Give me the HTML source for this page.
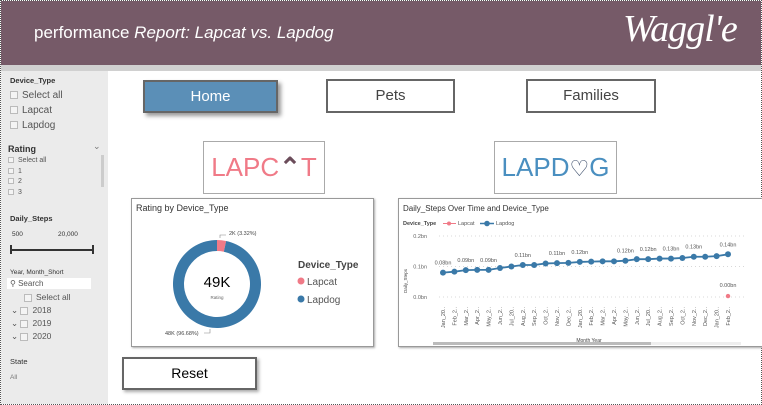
<!DOCTYPE html>
<html><head><meta charset="utf-8">
<style>
*{box-sizing:border-box;margin:0;padding:0}
body{width:762px;height:405px;overflow:hidden;background:#fff;font-family:"Liberation Sans",sans-serif;position:relative}
.abs{position:absolute}
.frame{left:0;top:0;width:762px;height:405px;border:1px dotted #555}
.header{left:1px;top:1px;width:760px;height:64px;background:#765a68}
.band{left:1px;top:65px;width:760px;height:6px;background:#d0d0d0}
.side{left:1px;top:71px;width:107px;height:333px;background:#ebebeb;font-size:8px;color:#333}
.btn{border:2px solid #666;background:#fff;font-size:15px;color:#444;text-align:center;line-height:29px}
.cb{display:inline-block;width:8px;height:8px;border:1px solid #bbb;background:#f4f4f4;vertical-align:middle;margin-right:4px}
.panel{border:1px solid #999;background:#fff;box-shadow:1px 1px 2px #aaa}
</style></head><body>
<div class="abs frame"></div>
<div class="abs header">
 <div class="abs" style="left:33px;top:22px;color:#fff;font-size:17px">performance <i>Report: Lapcat vs. Lapdog</i></div>
 <div class="abs" style="left:622px;top:6px;color:#fff;font-size:38px;font-style:italic;font-family:'Liberation Serif',serif;letter-spacing:-1px">Waggl'e</div>
</div>
<div class="abs band"></div>
<div class="abs side">
 <div class="abs" style="left:9px;top:5px;font-weight:bold;font-size:7.5px">Device_Type</div>
 <div class="abs" style="left:9px;top:17px;font-size:10px;line-height:15px;color:#555">
  <div><span class="cb"></span>Select all</div><div><span class="cb"></span>Lapcat</div><div><span class="cb"></span>Lapdog</div></div>
 <div class="abs" style="left:7px;top:73px;font-size:9px;font-weight:bold">Rating</div>
 <div class="abs" style="left:92px;top:70px;font-size:9px;color:#777">&#8964;</div>
 <div class="abs" style="left:100px;top:84px;width:3px;height:32px;background:#ccc"></div>
 <div class="abs" style="left:7px;top:85px;font-size:7px;line-height:10.5px;color:#555">
  <div><span class="cb" style="width:6px;height:6px"></span>Select all</div><div><span class="cb" style="width:6px;height:6px"></span>1</div><div><span class="cb" style="width:6px;height:6px"></span>2</div><div><span class="cb" style="width:6px;height:6px"></span>3</div></div>
 <div class="abs" style="left:9px;top:143px;font-size:7.5px;font-weight:bold">Daily_Steps</div>
 <div class="abs" style="left:11px;top:160px;font-size:6.5px">500</div>
 <div class="abs" style="left:57px;top:160px;font-size:6.5px">20,000</div>
 <div class="abs" style="left:9px;top:178px;width:84px;height:2px;background:#333"></div>
 <div class="abs" style="left:9px;top:174px;width:2px;height:9px;background:#333"></div>
 <div class="abs" style="left:91px;top:174px;width:2px;height:9px;background:#333"></div>
 <div class="abs" style="left:9px;top:198px;font-size:6.5px">Year, Month_Short</div>
 <div class="abs" style="left:6px;top:207px;width:84px;height:11px;background:#fff;font-size:8px;color:#555;padding-left:3px;line-height:11px">&#9906; Search</div>
 <div class="abs" style="left:10px;top:220px;font-size:8.5px;line-height:13px;color:#555">
  <div style="padding-left:13px"><span class="cb"></span>Select all</div>
  <div>&#8964; <span class="cb"></span>2018</div><div>&#8964; <span class="cb"></span>2019</div><div>&#8964; <span class="cb"></span>2020</div></div>
 <div class="abs" style="left:9px;top:286px;font-size:7.5px">State</div>
 <div class="abs" style="left:9px;top:303px;font-size:6.5px;color:#777">All</div>
</div>
<div class="abs btn" style="left:143px;top:80px;width:135px;height:33px;background:#5b8fb7;color:#fff;box-shadow:3px 3px 4px #999">Home</div>
<div class="abs btn" style="left:326px;top:79px;width:129px;height:34px">Pets</div>
<div class="abs btn" style="left:526px;top:79px;width:130px;height:34px">Families</div>
<div class="abs" style="left:203px;top:141px;width:122px;height:53px;border:1px solid #aaa;color:#f07a87;font-size:26px;text-align:center;line-height:51px">LAPC<span style="color:#6b4c5a;font-weight:bold">&#8963;</span>T</div>
<div class="abs" style="left:494px;top:141px;width:123px;height:53px;border:1px solid #aaa;color:#4a8fc0;font-size:26px;text-align:center;line-height:51px">LAPD<span style="color:#3b4d6a;font-size:22px">&#9825;</span>G</div>

<div class="abs panel" style="left:131px;top:198px;width:243px;height:149px">
<svg width="243" height="149" id="donut">
 <text x="4" y="12" font-size="9" fill="#333">Rating by Device_Type</text>
 <text x="166" y="69" font-size="10" font-weight="bold" fill="#444">Device_Type</text>
 <circle cx="169" cy="82" r="3.5" fill="#f07a87"/><text x="175" y="86" font-size="10" fill="#555">Lapcat</text>
 <circle cx="169" cy="100" r="3.5" fill="#3a79a8"/><text x="175" y="104" font-size="10" fill="#555">Lapdog</text>
 <g id="slices"></g>
 <text x="85" y="88" font-size="15" text-anchor="middle" fill="#000">49K</text>
 <text x="85" y="100" font-size="4.5" text-anchor="middle" fill="#666">Rating</text>
 <text x="97" y="36" font-size="5.5" fill="#444">2K (3.32%)</text>
 <path d="M88 39 L88 36 L94 36" stroke="#888" fill="none" stroke-width="0.6"/>
 <text x="33" y="136" font-size="5.5" fill="#444">48K (96.68%)</text>
 <path d="M72 134 L78 134 L78 130" stroke="#888" fill="none" stroke-width="0.6"/>
</svg></div>

<div class="abs panel" style="left:398px;top:198px;width:368px;height:149px">
<svg width="368" height="149" id="line">
 <text x="4" y="12" font-size="8" fill="#333">Daily_Steps Over Time and Device_Type</text>
 <text x="4" y="26" font-size="5.5" font-weight="bold" fill="#444">Device_Type</text>
 <line x1="44" y1="24.5" x2="57" y2="24.5" stroke="#f07a87"/><circle cx="50" cy="24.5" r="2" fill="#f07a87"/>
 <text x="59" y="26" font-size="5.5" fill="#555">Lapcat</text>
 <line x1="81" y1="24.5" x2="95" y2="24.5" stroke="#3a79a8" stroke-width="1.5"/><circle cx="88" cy="24.5" r="2.8" fill="#3a79a8"/>
 <text x="97" y="26" font-size="5.5" fill="#555">Lapdog</text>
 <text transform="translate(8,82) rotate(-90)" font-size="4.5" fill="#444" text-anchor="middle">Daily_Steps</text>
 <text x="190" y="143" font-size="5" fill="#444" text-anchor="middle">Month Year</text>
 <rect x="34" y="143" width="218" height="3" fill="#bbb"/>
 <rect x="252" y="143" width="90" height="3" fill="#eee"/>
 <g id="lg"></g>
</svg></div>
<div class="abs btn" style="left:122px;top:357px;width:135px;height:33px;color:#000;font-size:14px;line-height:29px;box-shadow:2px 2px 3px #aaa">Reset</div>

<script>
const donutLabels=["Lapcat","Lapdog"];
const donutValues=[1.63,47.37];
const months=["Jan_20..","Feb_2..","Mar_2..","Apr_2..","May_2..","Jun_2..","Jul_20..","Aug_2..","Sep_2..","Oct_2..","Nov_2..","Dec_2..","Jan_20..","Feb_2..","Mar_2..","Apr_2..","May_2..","Jun_2..","Jul_20..","Aug_2..","Sep_2..","Oct_2..","Nov_2..","Dec_2..","Jan_20..","Feb_2.."];
const lapdogValues=[0.08,0.083,0.088,0.089,0.089,0.095,0.10,0.105,0.105,0.11,0.111,0.112,0.115,0.116,0.117,0.117,0.119,0.124,0.124,0.126,0.126,0.128,0.132,0.132,0.134,0.14];
const lapdogLabels=["0.08bn","","0.09bn","","0.09bn","","","0.11bn","","","0.11bn","","0.12bn","","","","0.12bn","","0.12bn","","0.13bn","","0.13bn","","","0.14bn"];
const lapcatValues=[null,null,null,null,null,null,null,null,null,null,null,null,null,null,null,null,null,null,null,null,null,null,null,null,null,0.003];
const yTicks=[0,0.1,0.2];
const yTickLabels=["0.0bn","0.1bn","0.2bn"];
const NS="http://www.w3.org/2000/svg";
function mk(p,t,a){const e=document.createElementNS(NS,t);for(const k in a)e.setAttribute(k,a[k]);p.appendChild(e);return e;}
const sg=document.getElementById('slices');
const cx=85,cy=85,R=44,r=33;const colors=["#f07a87","#3a79a8"];
const tot=donutValues.reduce((a,b)=>a+b,0);let a0=0;
donutValues.forEach((v,i)=>{const a1=a0+v/tot*2*Math.PI;
 const p=(ang,rad)=>[cx+rad*Math.sin(ang),cy-rad*Math.cos(ang)];
 const [x1,y1]=p(a0,R),[x2,y2]=p(a1,R),[x3,y3]=p(a1,r),[x4,y4]=p(a0,r);const lg=(a1-a0)>Math.PI?1:0;
 const el=mk(sg,'path',{d:`M${x1} ${y1} A${R} ${R} 0 ${lg} 1 ${x2} ${y2} L${x3} ${y3} A${r} ${r} 0 ${lg} 0 ${x4} ${y4}Z`,fill:colors[i]});
 
 
 a0=a1;});
const g=document.getElementById('lg');
const x0=44,x1=329;const yS=v=>98-v/0.2*61;
const xS=i=>x0+i*(x1-x0)/(months.length-1);
yTicks.forEach((t,i)=>{mk(g,'line',{x1:40,x2:345,y1:yS(t),y2:yS(t),stroke:'#ccc','stroke-dasharray':'1 3','stroke-width':0.7});
 const tx=mk(g,'text',{x:28,y:yS(t)+2,'font-size':5.5,fill:'#666','text-anchor':'end'});tx.textContent=yTickLabels[i];});
months.forEach((m,i)=>{const t=mk(g,'text',{transform:`translate(${xS(i)+2},108) rotate(-90)`,'font-size':5.5,fill:'#555','text-anchor':'end'});t.textContent=m;});
let d='';lapdogValues.forEach((v,i)=>{d+=(i?'L':'M')+xS(i)+' '+yS(v);});
const pl=mk(g,'path',{d:d,stroke:'#3a79a8','stroke-width':1.8,fill:'none'});


lapdogValues.forEach((v,i)=>{const c=mk(g,'circle',{cx:xS(i),cy:yS(v),r:3,fill:'#3a79a8'});
 
 
 if(lapdogLabels[i]){const t=mk(g,'text',{x:xS(i),y:yS(v)-8,'font-size':5.5,fill:'#555','text-anchor':'middle'});t.textContent=lapdogLabels[i];}});
lapcatValues.forEach((v,i)=>{if(v===null)return;const c=mk(g,'circle',{cx:xS(i),cy:yS(v),r:2.2,fill:'#f07a87'});
 
 
 const t=mk(g,'text',{x:xS(i),y:yS(v)-9,'font-size':5.5,fill:'#555','text-anchor':'middle'});t.textContent=v.toFixed(2)+'bn';});
</script>
</body></html>
